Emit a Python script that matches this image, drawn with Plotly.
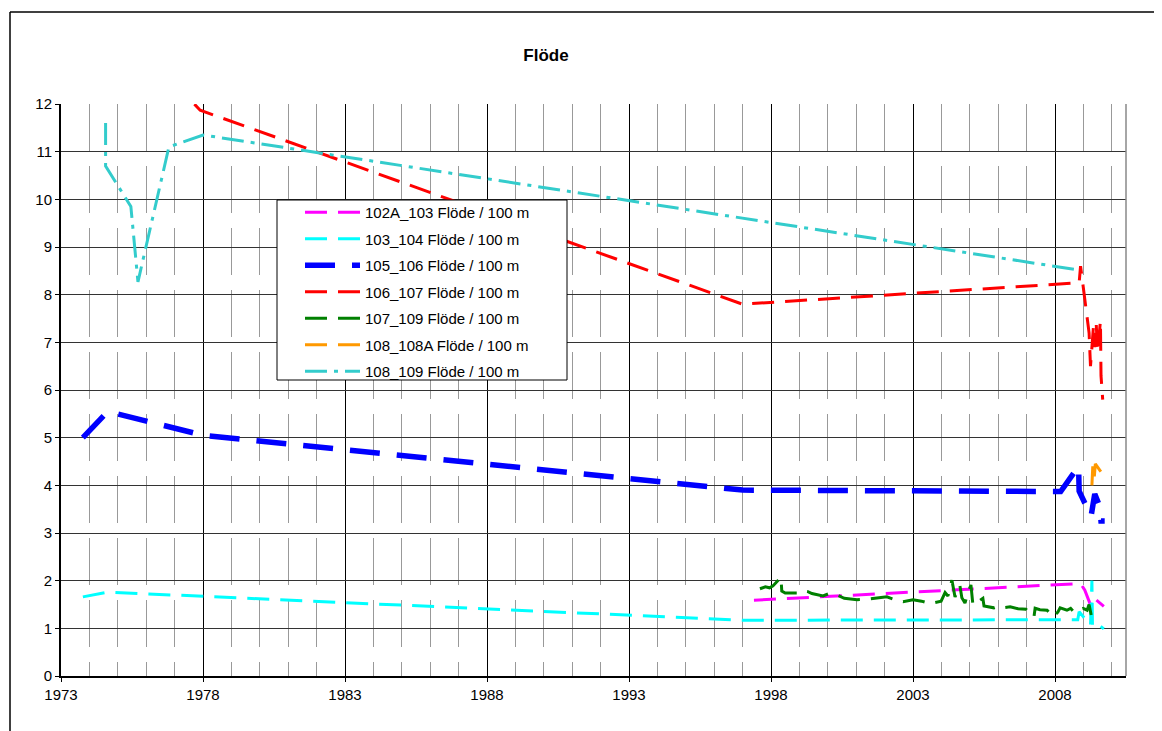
import plotly.graph_objects as go

# ---- data: decimal year -> Flöde / 100 m ----
x_102a_103 = [1997.4, 2008.9, 2009.05, 2009.27, 2009.4, 2009.72]
y_102a_103 = [1.59, 1.94, 1.8, 1.46, 1.62, 1.46]

x_103_104 = [1973.77, 1974.65, 1997.0, 2008.8, 2008.85, 2009.25, 2009.3, 2009.32, 2009.55, 2009.72]
y_103_104 = [1.66, 1.76, 1.17, 1.18, 1.35, 1.06, 2.0, 1.03, 1.07, 0.99]

x_105_106 = [1973.77, 1974.65, 1978.0, 1997.0, 2008.2, 2008.83, 2008.85, 2009.27, 2009.4, 2009.58, 2009.62, 2009.75]
y_105_106 = [5.0, 5.55, 5.05, 3.9, 3.87, 4.4, 3.88, 3.35, 3.82, 3.55, 3.25, 3.25]

x_106_107 = [1976.9, 1977.9, 1997.0, 2008.85, 2008.9, 2009.1, 2009.2, 2009.25, 2009.35, 2009.4,
             2009.45, 2009.5, 2009.6, 2009.62, 2009.68]
y_106_107 = [12.5, 11.87, 7.8, 8.25, 8.6, 7.7, 7.2, 6.5, 7.3, 6.9, 7.4, 6.8, 7.45, 6.3, 5.8]

x_107_109 = [1997.61, 1997.8, 1997.95, 1998.07, 1998.35, 1998.38, 1998.5, 1998.95, 1999.1, 1999.3,
             1999.44, 1999.83, 2000.05, 2000.25, 2000.58, 2001.03, 2001.38, 2001.73, 2002.08, 2002.37,
             2002.65, 2003.0, 2003.3, 2003.6, 2003.99, 2004.13, 2004.23, 2004.37, 2004.48, 2004.58,
             2004.65, 2004.72, 2004.83, 2004.94, 2005.04, 2005.11, 2005.46, 2005.5, 2005.85, 2006.0,
             2006.13, 2006.42, 2006.7, 2006.98, 2007.26, 2007.3, 2007.47, 2007.72, 2007.93, 2008.1,
             2008.18, 2008.42, 2008.55, 2008.67, 2008.99, 2009.13, 2009.2, 2009.3]
y_107_109 = [1.83, 1.87, 1.85, 1.89, 2.07, 1.78, 1.74, 1.74, 1.79, 1.77,
             1.73, 1.68, 1.73, 1.72, 1.63, 1.6, 1.61, 1.64, 1.66, 1.6,
             1.56, 1.6, 1.57, 1.52, 1.57, 1.75, 1.68, 2.01, 1.66, 1.8,
             1.9, 1.64, 1.53, 1.76, 1.91, 1.49, 1.63, 1.47, 1.43, 1.46,
             1.43, 1.45, 1.41, 1.4, 1.24, 1.42, 1.39, 1.38, 1.24, 1.34,
             1.43, 1.38, 1.42, 1.34, 1.42, 1.38, 1.5, 1.2]

x_108_108a = [2009.3, 2009.33, 2009.38, 2009.42, 2009.6, 2009.7]
y_108_108a = [4.0, 4.4, 4.15, 4.45, 4.3, 4.22]

x_108_109 = [1974.57, 1974.57, 1975.46, 1975.71, 1976.8, 1978.0, 2008.81]
y_108_109 = [11.6, 10.7, 9.85, 8.27, 11.1, 11.35, 8.52]

SERIES = [
    ("102A_103 Flöde / 100 m", x_102a_103, y_102a_103, "#FF00FF", 3, "22px,11px"),
    ("103_104 Flöde / 100 m", x_103_104, y_103_104, "#00FFFF", 3, "22px,11px"),
    ("105_106 Flöde / 100 m", x_105_106, y_105_106, "#0000FF", 5.5, "30px,17px"),
    ("106_107 Flöde / 100 m", x_106_107, y_106_107, "#FF0000", 3, "22px,11px"),
    ("107_109 Flöde / 100 m", x_107_109, y_107_109, "#008000", 3, "22px,11px"),
    ("108_108A Flöde / 100 m", x_108_108a, y_108_108a, "#FF9900", 3, "22px,11px"),
    ("108_109 Flöde / 100 m", x_108_109, y_108_109, "#33CCCC", 3, "22px,7px,4px,7px"),
]

# the page body adds an 8px offset, so figure coords = screen coords - 8
OFF = 8
W, H = 1162 - OFF, 731 - OFF
L, R, T, B = 61 - OFF, 1126 - OFF, 104 - OFF, 676 - OFF


def px(x):
    """screen x pixel -> paper fraction"""
    return (x - OFF - L) / (R - L)


def py(y):
    """screen y pixel -> paper fraction"""
    return (B - (y - OFF)) / (B - T)


fig = go.Figure()
for i, (name, xs, ys, color, width, dash) in enumerate(SERIES):
    fig.add_trace(go.Scatter(
        x=xs, y=ys, mode="lines", name=name, legendgroup=str(i),
        line=dict(color=color, width=width, dash=dash),
    ))

shapes = [
    # legend box
    dict(type="rect", xref="paper", yref="paper", x0=px(277), x1=px(567), y0=py(380), y1=py(200),
         fillcolor="white", line=dict(color="black", width=1), layer="above"),
    # right border of plot area
    dict(type="line", xref="paper", yref="paper", x0=1, x1=1, y0=0, y1=1,
         line=dict(color="#888888", width=1.5)),
    # outer chart frame
    dict(type="line", xref="paper", yref="paper", x0=px(10), x1=px(10), y0=py(12), y1=py(740),
         line=dict(color="black", width=1.5)),
    dict(type="line", xref="paper", yref="paper", x0=px(10), x1=px(1170), y0=py(12), y1=py(12),
         line=dict(color="black", width=1.5)),
]

fig.update_layout(
    width=W, height=H,
    margin=dict(l=L, r=W - R, t=T, b=H - B),
    paper_bgcolor="white", plot_bgcolor="white",
    font=dict(family="Arial, Liberation Sans, sans-serif", size=15, color="black"),
    title=dict(text="<b>Flöde</b>", x=(546 - OFF) / W, xanchor="center", xref="container",
               y=1 - (55 - OFF) / H, yanchor="middle", yref="container",
               font=dict(size=17, color="black")),
    showlegend=True,
    legend=dict(x=px(300), y=py(196), xanchor="left", yanchor="top",
                bgcolor="rgba(0,0,0,0)", borderwidth=0, itemwidth=55,
                traceorder="grouped", tracegroupgap=4,
                font=dict(size=15, color="black")),
    xaxis=dict(range=[1973, 2010.5], tick0=1973, dtick=5, tickformat="d",
               showgrid=True, gridcolor="#000000", gridwidth=1,
               minor=dict(dtick=1, showgrid=True, gridcolor="#999999", griddash="47px,15px", gridwidth=1),
               showline=True, linecolor="black", linewidth=2,
               ticks="outside", ticklen=4, tickcolor="black", zeroline=False,
               fixedrange=True),
    yaxis=dict(range=[0, 12], tick0=0, dtick=1,
               showgrid=True, gridcolor="#333333", gridwidth=1,
               showline=True, linecolor="black", linewidth=2,
               ticks="outside", ticklen=4, tickcolor="black", zeroline=False,
               fixedrange=True),
    shapes=shapes,
)

fig.write_html("out.html")
